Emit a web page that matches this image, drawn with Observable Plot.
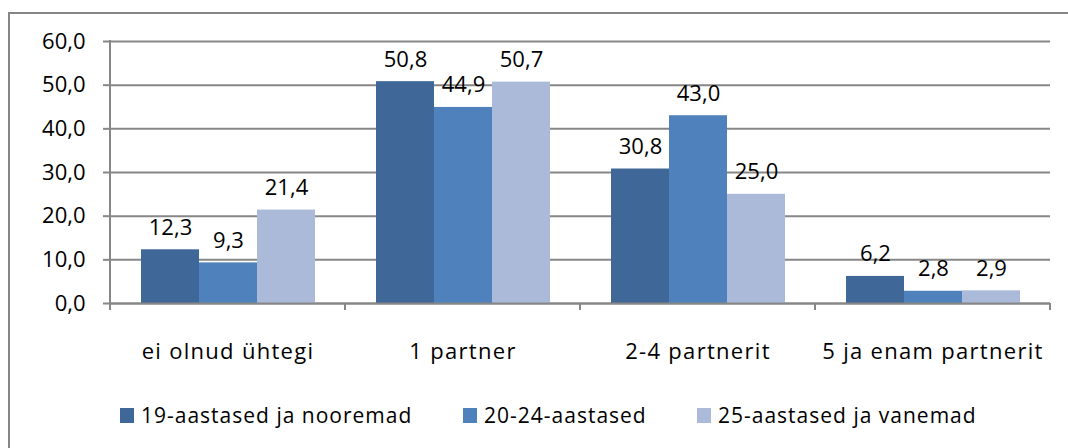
<!DOCTYPE html>
<html><head><meta charset="utf-8">
<script src="https://cdn.jsdelivr.net/npm/d3@7"></script>
<script src="https://cdn.jsdelivr.net/npm/@observablehq/plot@0.6"></script>
<style>
body{margin:0;background:#fff;font-family:"Open Sans",sans-serif;}
#wrap{position:relative;width:1068px;height:448px;overflow:hidden;background:#fff;}
#frame{position:absolute;left:8px;top:12px;width:1100px;height:500px;border:2px solid #868686;box-sizing:border-box;}
#chart{position:absolute;left:0;top:0;}
.item{position:absolute;top:404px;display:flex;align-items:center;height:22px;font-size:21px;color:#000;white-space:nowrap;letter-spacing:1px;}
.sw{width:14px;height:15px;margin-right:7px;}
[aria-label="fx-axis tick label"]{letter-spacing:1.3px;}
</style></head>
<body><div id="wrap"><div id="frame"></div><div id="chart"></div><div id="legend"></div></div>
<script>
const categories = ["ei olnud ühtegi", "1 partner", "2-4 partnerit", "5 ja enam partnerit"];
const seriesNames = ["19-aastased ja nooremad", "20-24-aastased", "25-aastased ja vanemad"];
const values19 = [12.3, 50.8, 30.8, 6.2];
const values2024 = [9.3, 44.9, 43.0, 2.8];
const values25 = [21.4, 50.7, 25.0, 2.9];
const colors = ["#3F6898", "#4F81BD", "#AABAD8"];
const yTicks = [0, 10, 20, 30, 40, 50, 60];
const legendLefts = [120, 463, 697];

const seriesValues = [values19, values2024, values25];
const data = [];
categories.forEach((c, i) => seriesNames.forEach((s, j) => data.push({category: c, series: s, value: seriesValues[j][i]})));
const fmt = d => d.toFixed(1).replace(".", ",");
const grey = "#878787";

const chart = Plot.plot({
  width: 1068, height: 380,
  marginLeft: 108, marginRight: 17, marginTop: 41, marginBottom: 77,
  style: {fontFamily: "Open Sans", fontSize: "22px", color: "#000", background: "transparent"},
  fx: {domain: categories, padding: 0, label: null},
  x: {domain: seriesNames, paddingInner: 0, paddingOuter: 0.5, axis: null},
  y: {domain: [0, 60], label: null},
  color: {domain: seriesNames, range: colors},
  marks: [
    Plot.gridY(yTicks, {stroke: grey, strokeOpacity: 1, strokeWidth: 2}),
    Plot.barY(data, {fx: "category", x: "series", y: "value", fill: "series"}),
    Plot.ruleY([0], {stroke: grey, strokeWidth: 2}),
    Plot.text(data, {fx: "category", x: "series", y: "value", text: d => fmt(d.value), dy: -22, fill: "#000", fontSize: 22}),
    Plot.axisY({ticks: yTicks, tickFormat: fmt, tickSize: 7, tickPadding: 18, stroke: grey, strokeWidth: 2, fill: "#000", label: null, fontSize: 22}),
    Plot.axisFx({anchor: "bottom", tickSize: 0, tickPadding: 40, label: null, fill: "#000", fontSize: 22})
  ]
});
document.getElementById("chart").appendChild(chart);

// axis line and category boundary ticks from the chart's own scales
const fx = chart.scale("fx"), y = chart.scale("y");
const svg = d3.select(chart);
const y0 = y.apply(0), yTop = y.apply(60);
const bounds = categories.map(c => fx.apply(c)).concat([fx.apply(categories[categories.length - 1]) + fx.bandwidth]);
const g = svg.append("g").attr("stroke", grey).attr("stroke-width", 2);
g.append("line").attr("x1", bounds[0]).attr("x2", bounds[0]).attr("y1", yTop - 1).attr("y2", y0 + 7);
bounds.slice(1).forEach(b => g.append("line").attr("x1", b).attr("x2", b).attr("y1", y0).attr("y2", y0 + 7));

const legend = document.getElementById("legend");
seriesNames.forEach((s, i) => {
  const it = document.createElement("div");
  it.className = "item";
  it.style.left = legendLefts[i] + "px";
  it.innerHTML = `<span class="sw" style="background:${colors[i]}"></span><span>${s}</span>`;
  legend.appendChild(it);
});
</script>
</body></html>
